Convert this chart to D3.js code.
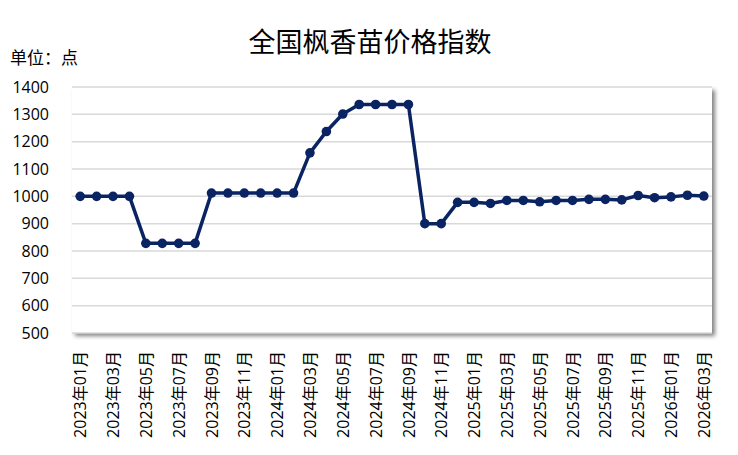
<!DOCTYPE html>
<html><head><meta charset="utf-8">
<script src="https://cdn.jsdelivr.net/npm/d3@7"></script>
<style>body{margin:0;background:#fff;} svg{display:block;}</style>
</head><body>
<script>
const months = ["2023年01月","2023年02月","2023年03月","2023年04月","2023年05月","2023年06月","2023年07月","2023年08月","2023年09月","2023年10月","2023年11月","2023年12月",
"2024年01月","2024年02月","2024年03月","2024年04月","2024年05月","2024年06月","2024年07月","2024年08月","2024年09月","2024年10月","2024年11月","2024年12月",
"2025年01月","2025年02月","2025年03月","2025年04月","2025年05月","2025年06月","2025年07月","2025年08月","2025年09月","2025年10月","2025年11月","2025年12月",
"2026年01月","2026年02月","2026年03月"];
const values = [1000,1000,1000,1000,828,828,828,828,1012,1012,1012,1012,1012,1012,1159,1237,1301,1336,1336,1336,1336,900,900,978,
978,974,985,985,980,985,985,989,989,987,1003,995,998,1004,1001];
const yTicks = [500,600,700,800,900,1000,1100,1200,1300,1400];
const title = "全国枫香苗价格指数";
const unit = "单位：点";

const W = 738, H = 455;
const font = "'Open Sans','Noto Sans CJK SC',sans-serif";
const cjk = "'Noto Sans CJK SC',sans-serif";
const svg = d3.select("body").append("svg").attr("width", W).attr("height", H);
const defs = svg.append("defs");
const f = defs.append("filter").attr("id","sh").attr("x","-5%").attr("y","-5%").attr("width","115%").attr("height","120%");
f.append("feGaussianBlur").attr("in","SourceAlpha").attr("stdDeviation",2);
f.append("feOffset").attr("dx",3).attr("dy",3).attr("result","b");
f.append("feComponentTransfer").append("feFuncA").attr("type","linear").attr("slope",0.5);
const m = f.append("feMerge"); m.append("feMergeNode"); m.append("feMergeNode").attr("in","SourceGraphic");

const L = 72, R = 712, T = 87, B = 333;
const x = d3.scalePoint().domain(months).range([L, R]).padding(0.5);
const y = d3.scaleLinear().domain([500, 1400]).range([B, T]);

svg.append("rect").attr("x", L).attr("y", T).attr("width", R-L).attr("height", B-T)
  .attr("fill","#fff").attr("filter","url(#sh)");

svg.append("g").selectAll("line").data(yTicks).join("line")
  .attr("x1", L).attr("x2", R).attr("y1", d=>y(d)).attr("y2", d=>y(d))
  .attr("stroke","#d9d9d9").attr("stroke-width",1.5);

const yAxis = svg.append("g").attr("transform",`translate(${L},0)`)
  .call(d3.axisLeft(y).tickValues(yTicks).tickFormat(d3.format("d")).tickSize(0).tickPadding(23));
yAxis.select(".domain").remove();
yAxis.selectAll("text").attr("font-family", font).attr("font-size", 16).attr("fill","#000");

const xAxis = svg.append("g").attr("transform",`translate(0,${B})`)
  .call(d3.axisBottom(x).tickValues(months.filter((d,i)=>i%2===0)).tickSize(0));
xAxis.select(".domain").remove();
xAxis.selectAll("text").attr("font-family", font).attr("font-size", 16).attr("fill","#000")
  .attr("text-anchor","end").attr("dy","0.35em").attr("dx",0)
  .attr("transform","translate(0,18) rotate(-90)").attr("x",0).attr("y",0);

const data = months.map((d,i)=>({m:d, v:values[i]}));
svg.append("path").datum(data)
  .attr("d", d3.line().x(d=>x(d.m)).y(d=>y(d.v)))
  .attr("fill","none").attr("stroke","#0a2463").attr("stroke-width",3.5).attr("stroke-linejoin","round");
svg.append("g").selectAll("circle").data(data).join("circle")
  .attr("cx", d=>x(d.m)).attr("cy", d=>y(d.v)).attr("r", 4.8).attr("fill","#0a2463");

svg.append("text").attr("x", 370).attr("y", 52).attr("text-anchor","middle")
  .attr("font-family", cjk).attr("font-size", 27).attr("fill","#000").text(title);
svg.append("text").attr("x", 10).attr("y", 64)
  .attr("font-family", cjk).attr("font-size", 17).attr("fill","#000").text(unit);
</script>
</body></html>
